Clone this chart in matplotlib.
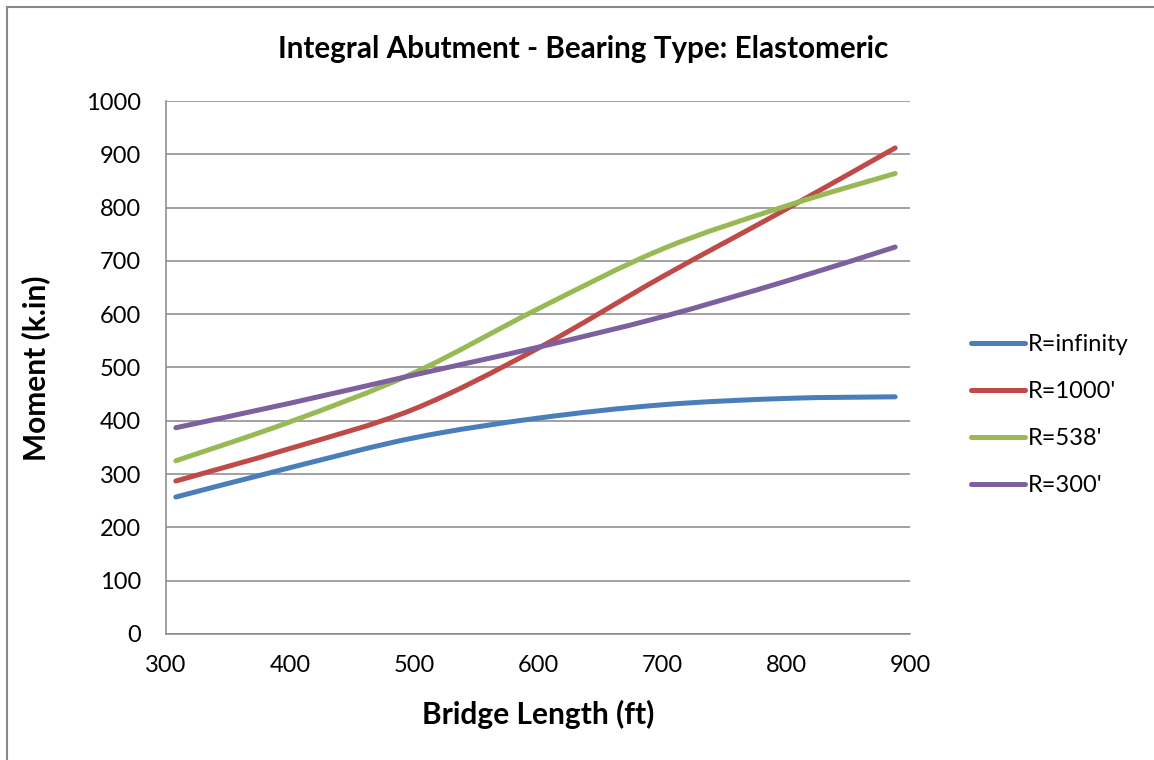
import matplotlib.pyplot as plt
import numpy as np
from matplotlib.path import Path
from matplotlib.patches import PathPatch, Rectangle
from matplotlib.lines import Line2D

plt.rcParams['font.family'] = ['Lato', 'DejaVu Sans']

# values
length = [308, 400, 500, 600, 700, 800, 888]
r_inf = [257, 312, 368, 405, 430, 442, 445]
r_1000 = [287, 348, 422, 536, 670, 797, 912]
r_538 = [325, 398, 490, 610, 722, 803, 864]
r_300 = [387, 433, 486, 538, 595, 662, 726]

series = [("R=infinity", r_inf, "#4A7EBB"),
          ("R=1000'", r_1000, "#BE4B48"),
          ("R=538'", r_538, "#98B954"),
          ("R=300'", r_300, "#7D60A0")]


def smooth_path(x, y):
    # Excel style smoothed line: cubic bezier through every point
    pts = np.column_stack([x, y]).astype(float)
    verts = [pts[0]]
    codes = [Path.MOVETO]
    n = len(pts)
    for i in range(n - 1):
        p0 = pts[i - 1] if i > 0 else pts[i]
        p1 = pts[i]
        p2 = pts[i + 1]
        p3 = pts[i + 2] if i + 2 < n else pts[i + 1]
        c1 = p1 + (p2 - p0) / 6.0
        c2 = p2 - (p3 - p1) / 6.0
        verts += [c1, c2, p2]
        codes += [Path.CURVE4] * 3
    return Path(verts, codes)


fig = plt.figure(figsize=(11.54, 7.6), dpi=100)
ax = fig.add_axes([0.1438, 0.1658, 0.6448, 0.7013])

grid_c = "#878787"
handles = []
for name, vals, c in series:
    patch = PathPatch(smooth_path(length, vals), facecolor="none", edgecolor=c,
                      lw=3.6, capstyle="round", joinstyle="round", zorder=3)
    ax.add_patch(patch)
    handles.append(Line2D([], [], color=c, lw=3.6, solid_capstyle="round", label=name))

ax.set_xlim(300, 900)
ax.set_ylim(0, 1000)
ax.set_xticks(range(300, 901, 100))
ax.set_yticks(range(0, 1001, 100))
ax.yaxis.grid(True, color=grid_c, lw=1.1)
ax.set_axisbelow(True)
ax.tick_params(length=0, labelsize=17, pad=18)
ax.tick_params(axis="x", pad=15)
for s in ["top", "right"]:
    ax.spines[s].set_visible(False)
for s in ["left", "bottom"]:
    ax.spines[s].set_color(grid_c)
    ax.spines[s].set_linewidth(1.1)

fig.text(0.505, 0.935, "Integral Abutment - Bearing Type: Elastomeric",
         ha="center", va="center", fontsize=21.3, fontweight="bold")
fig.text(0.466, 0.06, "Bridge Length (ft)", ha="center", va="center",
         fontsize=21.5, fontweight="bold")
fig.text(0.031, 0.516, "Moment (k.in)", ha="center", va="center",
         fontsize=21.5, fontweight="bold", rotation=90)

fig.legend(handles=handles, loc="center left", bbox_to_anchor=(0.831, 0.454),
           frameon=False, fontsize=17, handlelength=2.3, handletextpad=0.1,
           labelspacing=1.1, borderpad=0)

fig.patches.append(Rectangle((7 / 1154, -0.1), 1.2, 1.1 - 7 / 760,
                             transform=fig.transFigure, fill=False,
                             edgecolor="#888888", lw=1.5))

fig.savefig("out.png", dpi=100)
